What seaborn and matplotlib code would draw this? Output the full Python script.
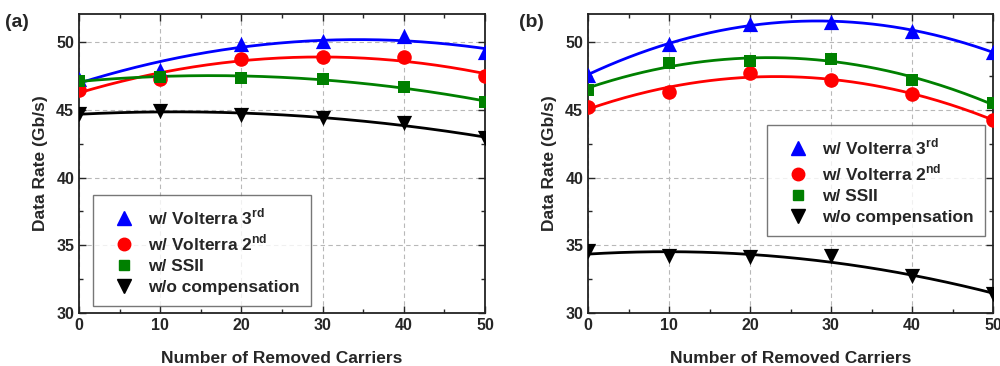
import numpy as np
import pandas as pd
import matplotlib
matplotlib.use("Agg")
import matplotlib.pyplot as plt
from matplotlib.ticker import MultipleLocator
from matplotlib.lines import Line2D
import seaborn as sns

# Removed-carrier counts and measured data rates (Gb/s)
carriers = [0, 10, 20, 30, 40, 50]

a_volterra3 = [47.3, 47.95, 49.85, 50.1, 50.5, 49.3]
a_volterra2 = [46.5, 47.3, 48.75, 48.9, 48.9, 47.5]
a_ssii = [47.15, 47.45, 47.4, 47.3, 46.7, 45.6]
a_nocomp = [44.7, 44.9, 44.65, 44.4, 44.05, 42.9]

b_volterra3 = [47.6, 49.9, 51.35, 51.5, 50.85, 49.3]
b_volterra2 = [45.2, 46.3, 47.75, 47.2, 46.2, 44.25]
b_ssii = [46.5, 48.5, 48.6, 48.8, 47.2, 45.5]
b_nocomp = [34.55, 34.2, 34.15, 34.2, 32.7, 31.4]

series_names = [r"w/ Volterra 3$^{\mathbf{rd}}$", r"w/ Volterra 2$^{\mathbf{nd}}$",
                "w/ SSII", "w/o compensation"]
colors = ["#0000ff", "#ff0000", "#008000", "#000000"]
markers = ["^", "o", "s", "v"]
marker_sizes = [120, 110, 80, 120]
legend_marker_sizes = [10.5, 9, 7.5, 10.5]

panels = [
    ("(a)", [a_volterra3, a_volterra2, a_ssii, a_nocomp]),
    ("(b)", [b_volterra3, b_volterra2, b_ssii, b_nocomp]),
]

sns.set_style("ticks")
plt.rcParams["font.family"] = ["Liberation Sans", "DejaVu Sans"]
plt.rcParams["font.weight"] = "bold"
plt.rcParams["mathtext.fontset"] = "custom"
plt.rcParams["mathtext.bf"] = "Liberation Sans:bold"
plt.rcParams["mathtext.rm"] = "Liberation Sans:bold"

fig = plt.figure(figsize=(10, 3.66), dpi=100)
axes = [fig.add_axes([0.079, 0.145, 0.406, 0.817]),
        fig.add_axes([0.588, 0.145, 0.405, 0.817])]

legend_locs = [(0.093, 0.164), (0.767, 0.355)]

for ax, (tag, values), lpos in zip(axes, panels, legend_locs):
    xfine = np.linspace(0, 50, 200)
    for name, y, c, m, ms in zip(series_names, values, colors, markers, marker_sizes):
        coef = np.polyfit(carriers, y, 2)
        fit = pd.DataFrame({"x": xfine, "y": np.polyval(coef, xfine)})
        sns.lineplot(data=fit, x="x", y="y", ax=ax, color=c, lw=2, zorder=3)
        pts = pd.DataFrame({"x": carriers, "y": y})
        sns.scatterplot(data=pts, x="x", y="y", ax=ax, color=c, marker=m,
                        s=ms, edgecolor=c, linewidth=0, zorder=4)

    ax.set_xlim(0, 50)
    ax.set_ylim(30, 52.1)
    ax.xaxis.set_major_locator(MultipleLocator(10))
    ax.xaxis.set_minor_locator(MultipleLocator(5))
    ax.yaxis.set_major_locator(MultipleLocator(5))
    ax.yaxis.set_minor_locator(MultipleLocator(2.5))
    ax.tick_params(which="both", direction="in", top=True, right=True,
                   labelsize=11.5, width=1)
    ax.tick_params(which="major", length=5)
    ax.tick_params(which="minor", length=3)
    for lab in ax.get_xticklabels() + ax.get_yticklabels():
        lab.set_fontweight("bold")
    ax.grid(True, which="major", ls=(0, (4, 3)), color="#b8b8b8", lw=0.8)
    for sp in ax.spines.values():
        sp.set_linewidth(1.3)
        sp.set_color("#222222")
    ax.set_xlabel("Number of Removed Carriers", fontsize=12.5, fontweight="bold", labelpad=13)
    ax.set_ylabel("Data Rate (Gb/s)", fontsize=12.5, fontweight="bold", labelpad=6)

    handles = [Line2D([], [], ls="none", marker=m, color=c, markersize=s)
               for c, m, s in zip(colors, markers, legend_marker_sizes)]
    leg = ax.legend(handles, series_names, loc="lower left",
                    bbox_to_anchor=lpos, bbox_transform=fig.transFigure,
                    borderaxespad=0, frameon=True, fancybox=False,
                    edgecolor="#555555", prop={"weight": "bold", "size": 12.5},
                    handletextpad=0.2, borderpad=0.65, labelspacing=0.32,
                    handlelength=2.3)
    leg.get_frame().set_linewidth(1.0)

fig.text(0.005, 0.925, "(a)", fontsize=14, fontweight="bold")
fig.text(0.519, 0.925, "(b)", fontsize=14, fontweight="bold")

fig.savefig("out.png", dpi=100)
